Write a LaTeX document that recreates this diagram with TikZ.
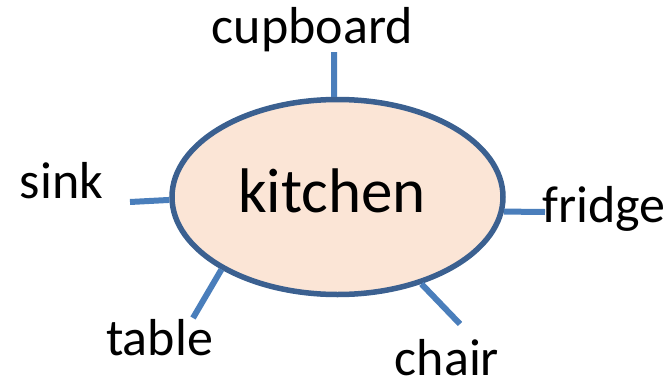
\documentclass[tikz,border=0pt]{standalone}
\usepackage{fontspec}
\setmainfont{Carlito}
\usetikzlibrary{
  positioning,
  shapes.geometric,
}
\definecolor{hubfill}{HTML}{FBE5D6}
\definecolor{hubdraw}{HTML}{3B6090}
\definecolor{spokeblue}{HTML}{4A7EBB}
\tikzset{
  x=1pt,
  y=-1pt,
  hub/.style={
    ellipse,
    minimum width=331pt,
    minimum height=195pt,
    inner sep=0pt,
    line width=5.5pt,
    draw=hubdraw,
    fill=hubfill,
  },
  item/.style={
    anchor=base,
    inner sep=0pt,
    font=\fontsize{52}{52}\selectfont,
  },
  spoke/.style={
    line width=6pt,
    draw=spokeblue,
  },
}
\begin{document}
\begin{tikzpicture}
  \useasboundingbox (0,0) rectangle (672,383);
  % the room
  \node [hub] (kitchen) at (337.5,197) {};
  \node [item, font=\fontsize{63}{63}\selectfont] (kitchenlabel) at (332,212) {kitchen};
  % things in it
  \node [item] (cupboard) at (312.5,43)  {cupboard};
  \node [item] (sink)     at (61.5,198)  {sink};
  \node [item] (fridge)   at (604,222)   {fridge};
  \node [item] (table)    at (159.5,355) {table};
  \node [item] (chair)    at (447,375)   {chair};
  % free ends of the spokes
  \coordinate (cupboardend) at (334,52);
  \coordinate (sinkend)     at (130,202);
  \coordinate (fridgeend)   at (545,212);
  \coordinate (tableend)    at (193,318);
  \coordinate (chairend)    at (460,324);
  \draw [spoke] (kitchen.92)   -- (cupboardend);
  \draw [spoke] (kitchen.181)  -- (sinkend);
  \draw [spoke] (kitchen.-5.5) -- (fridgeend);
  \draw [spoke] (kitchen.212)  -- (tableend);
  \draw [spoke] (kitchen.-46.5) -- (chairend);
\end{tikzpicture}
\end{document}
